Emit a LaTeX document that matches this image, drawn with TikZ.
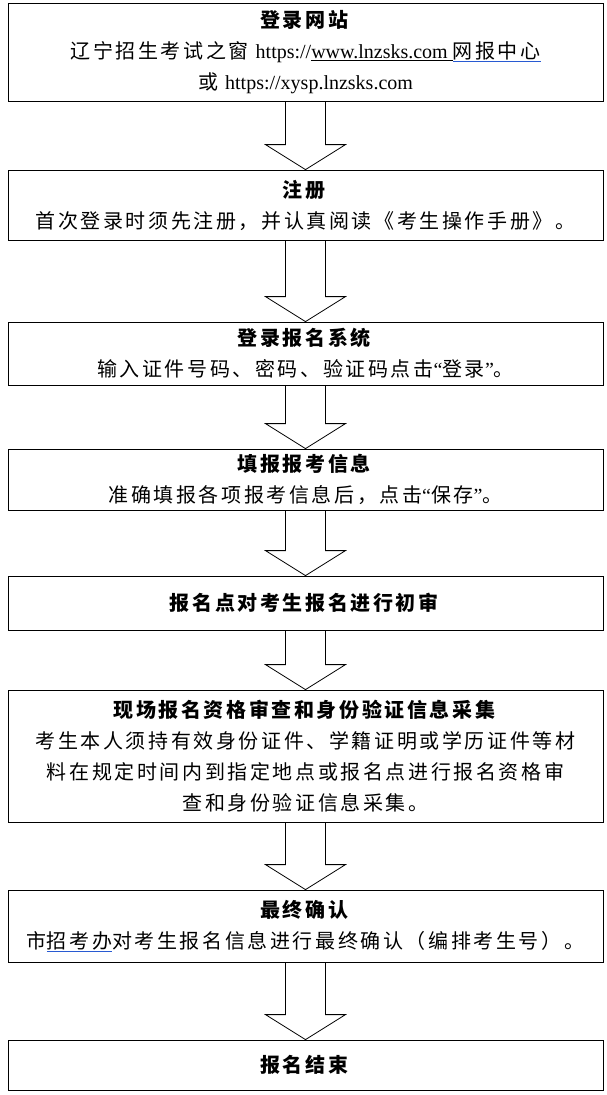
\documentclass[tikz,border=0pt]{standalone}
\usepackage{fontspec}
\setmainfont{Noto Sans CJK SC}[LetterSpace=13]
\newfontfamily\lat{Liberation Serif}
\usetikzlibrary{calc, positioning}

\tikzset{
  stepbox/.style={draw, line width=0.8pt, minimum width=595, inner sep=0pt, align=center,
    font=\fontsize{20}{31}\selectfont},
  blockarrow/.style={draw, line width=0.8pt, fill=white, line join=miter},
}
% hollow block arrow from node #1 down to node #2
\newcommand{\downarrowbetween}[2]{%
  \draw[blockarrow] ($(#1.south)+(-20,0)$) -- ($(#1.south)+(20,0)$)
    -- ($(#2.north)+(20,-25)$) -- ($(#2.north)+(40,-25)$) -- (#2.north)
    -- ($(#2.north)+(-40,-25)$) -- ($(#2.north)+(-20,-25)$) -- cycle;}

\begin{document}
\begin{tikzpicture}[x=1pt, y=-1pt]
  \useasboundingbox (0,0) rectangle (606,1095);

  % Boxes
  \node[stepbox, minimum height=98] (login) at (305.5,52)
    {\textbf{登录网站}\\ 辽宁招生考试之窗 {\lat\fontsize{20}{31}\selectfont https://\underline{www.lnzsks.com }}\textcolor[RGB]{40,90,210}{\underline{\textcolor{black}{网报中心}}}\\ 或 {\lat\fontsize{20}{31}\selectfont https://xysp.lnzsks.com}};
  \node[stepbox, minimum height=70] (register) at (305.5,205)
    {\textbf{注册}\\ 首次登录时须先注册，并认真阅读《考生操作手册》。};
  \node[stepbox, minimum height=63] (system) at (305.5,353.5)
    {\textbf{登录报名系统}\\ 输入证件号码、密码、验证码点击{\lat “}登录{\lat ”}。};
  \node[stepbox, minimum height=61] (info) at (305.5,479.5)
    {\textbf{填报报考信息}\\ 准确填报各项报考信息后，点击{\lat “}保存{\lat ”}。};
  \node[stepbox, minimum height=54] (review) at (305.5,603)
    {\textbf{报名点对考生报名进行初审}};
  \node[stepbox, minimum height=132] (onsite) at (305.5,756)
    {\textbf{现场报名资格审查和身份验证信息采集}\\ 考生本人须持有效身份证件、学籍证明或学历证件等材\\ 料在规定时间内到指定地点或报名点进行报名资格审\\ 查和身份验证信息采集。};
  \node[stepbox, minimum height=72] (confirm) at (305.5,926)
    {\textbf{最终确认}\\ 市\textcolor[RGB]{40,90,210}{\underline{\textcolor{black}{招考办}}}对考生报名信息进行最终确认（编排考生号）。};
  \node[stepbox, minimum height=50] (finish) at (305.5,1065)
    {\textbf{报名结束}};

  % Arrows
  \downarrowbetween{login}{register}
  \downarrowbetween{register}{system}
  \downarrowbetween{system}{info}
  \downarrowbetween{info}{review}
  \downarrowbetween{review}{onsite}
  \downarrowbetween{onsite}{confirm}
  \downarrowbetween{confirm}{finish}

\end{tikzpicture}
\end{document}
